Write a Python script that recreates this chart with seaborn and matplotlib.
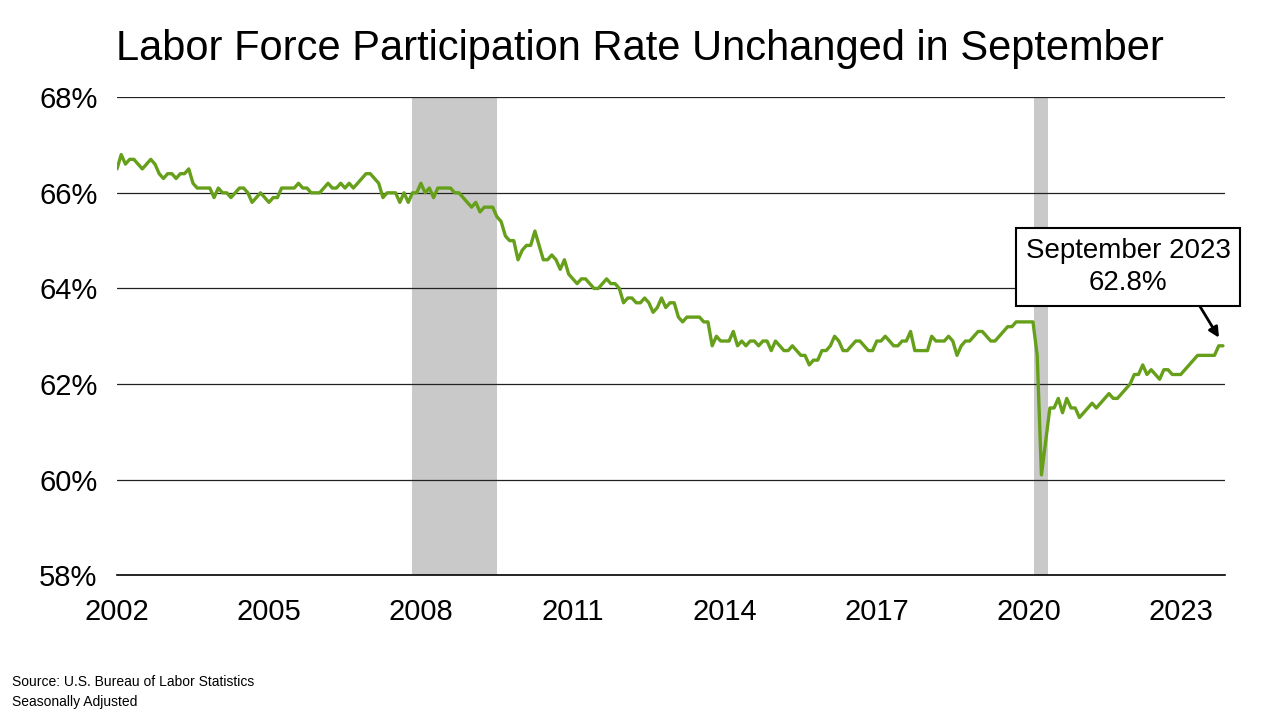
import pandas as pd
import seaborn as sns
import matplotlib.pyplot as plt

sns.set_theme(style="white")
plt.rcParams['font.family'] = ['Liberation Sans', 'DejaVu Sans']
plt.rcParams['text.color'] = 'black'
plt.rcParams['xtick.color'] = 'black'
plt.rcParams['ytick.color'] = 'black'

START_YEAR = 2002
# Monthly labor force participation rate, Jan 2002 - Sep 2023 (%)
rate = [
    66.5, 66.8, 66.6, 66.7, 66.7, 66.6, 66.5, 66.6, 66.7, 66.6, 66.4, 66.3,
    66.4, 66.4, 66.3, 66.4, 66.4, 66.5, 66.2, 66.1, 66.1, 66.1, 66.1, 65.9,
    66.1, 66.0, 66.0, 65.9, 66.0, 66.1, 66.1, 66.0, 65.8, 65.9, 66.0, 65.9,
    65.8, 65.9, 65.9, 66.1, 66.1, 66.1, 66.1, 66.2, 66.1, 66.1, 66.0, 66.0,
    66.0, 66.1, 66.2, 66.1, 66.1, 66.2, 66.1, 66.2, 66.1, 66.2, 66.3, 66.4,
    66.4, 66.3, 66.2, 65.9, 66.0, 66.0, 66.0, 65.8, 66.0, 65.8, 66.0, 66.0,
    66.2, 66.0, 66.1, 65.9, 66.1, 66.1, 66.1, 66.1, 66.0, 66.0, 65.9, 65.8,
    65.7, 65.8, 65.6, 65.7, 65.7, 65.7, 65.5, 65.4, 65.1, 65.0, 65.0, 64.6,
    64.8, 64.9, 64.9, 65.2, 64.9, 64.6, 64.6, 64.7, 64.6, 64.4, 64.6, 64.3,
    64.2, 64.1, 64.2, 64.2, 64.1, 64.0, 64.0, 64.1, 64.2, 64.1, 64.1, 64.0,
    63.7, 63.8, 63.8, 63.7, 63.7, 63.8, 63.7, 63.5, 63.6, 63.8, 63.6, 63.7,
    63.7, 63.4, 63.3, 63.4, 63.4, 63.4, 63.4, 63.3, 63.3, 62.8, 63.0, 62.9,
    62.9, 62.9, 63.1, 62.8, 62.9, 62.8, 62.9, 62.9, 62.8, 62.9, 62.9, 62.7,
    62.9, 62.8, 62.7, 62.7, 62.8, 62.7, 62.6, 62.6, 62.4, 62.5, 62.5, 62.7,
    62.7, 62.8, 63.0, 62.9, 62.7, 62.7, 62.8, 62.9, 62.9, 62.8, 62.7, 62.7,
    62.9, 62.9, 63.0, 62.9, 62.8, 62.8, 62.9, 62.9, 63.1, 62.7, 62.7, 62.7,
    62.7, 63.0, 62.9, 62.9, 62.9, 63.0, 62.9, 62.6, 62.8, 62.9, 62.9, 63.0,
    63.1, 63.1, 63.0, 62.9, 62.9, 63.0, 63.1, 63.2, 63.2, 63.3, 63.3, 63.3,
    63.3, 63.3, 62.6, 60.1, 60.8, 61.5, 61.5, 61.7, 61.4, 61.7, 61.5, 61.5,
    61.3, 61.4, 61.5, 61.6, 61.5, 61.6, 61.7, 61.8, 61.7, 61.7, 61.8, 61.9,
    62.0, 62.2, 62.2, 62.4, 62.2, 62.3, 62.2, 62.1, 62.3, 62.3, 62.2, 62.2,
    62.2, 62.3, 62.4, 62.5, 62.6, 62.6, 62.6, 62.6, 62.6, 62.8, 62.8,
]
recessions = [(2007.83, 2009.5), (2020.1, 2020.37)]
x_ticks = [2002, 2005, 2008, 2011, 2014, 2017, 2020, 2023]
y_ticks = [58, 60, 62, 64, 66, 68]

df = pd.DataFrame({'year': [START_YEAR + i / 12 for i in range(len(rate))], 'rate': rate})

fig = plt.figure(figsize=(12.8, 7.2), dpi=100)
ax = fig.add_axes([0.0914, 0.201, 0.866, 0.664])

for start, end in recessions:
    ax.axvspan(start, end, color='#c9c9c9', lw=0, zorder=0)

for y in y_ticks[1:]:
    ax.axhline(y, color='#222222', lw=0.9, zorder=1)

sns.lineplot(data=df, x='year', y='rate', ax=ax, color='#66a01a', lw=2.4, zorder=3)

ax.set_xlim(2002, df['year'].iloc[-1] + 0.05)
ax.set_ylim(58, 68)
ax.set_xticks(x_ticks)
ax.set_xticklabels([str(t) for t in x_ticks], fontsize=21)
ax.set_yticks(y_ticks)
ax.set_yticklabels([f'{t}%' for t in y_ticks], fontsize=21)
ax.tick_params(axis='x', pad=16, length=0)
ax.tick_params(axis='y', pad=14, length=0)
ax.set_xlabel('')
ax.set_ylabel('')
for side in ['top', 'right', 'left']:
    ax.spines[side].set_visible(False)
ax.spines['bottom'].set_color('black')
ax.spines['bottom'].set_linewidth(1.2)

last_x, last_y = df['year'].iloc[-1], df['rate'].iloc[-1]
ax.annotate('September 2023\n62.8%', xy=(last_x - 0.05, last_y + 0.12),
            xytext=(2021.96, 64.45), textcoords='data', ha='center', va='center',
            fontsize=20, linespacing=1.3,
            bbox=dict(boxstyle='square,pad=0.35', fc='white', ec='black', lw=1.5),
            arrowprops=dict(arrowstyle='-|>', color='black', lw=2, mutation_scale=15,
                            shrinkA=0, shrinkB=2, relpos=(0.82, 0.0)))

fig.text(0.5, 0.932, 'Labor Force Participation Rate Unchanged in September',
         ha='center', va='center', fontsize=30)
fig.text(0.009, 0.047, 'Source: U.S. Bureau of Labor Statistics', fontsize=10)
fig.text(0.009, 0.019, 'Seasonally Adjusted', fontsize=10)

fig.savefig('out.png', dpi=100)
